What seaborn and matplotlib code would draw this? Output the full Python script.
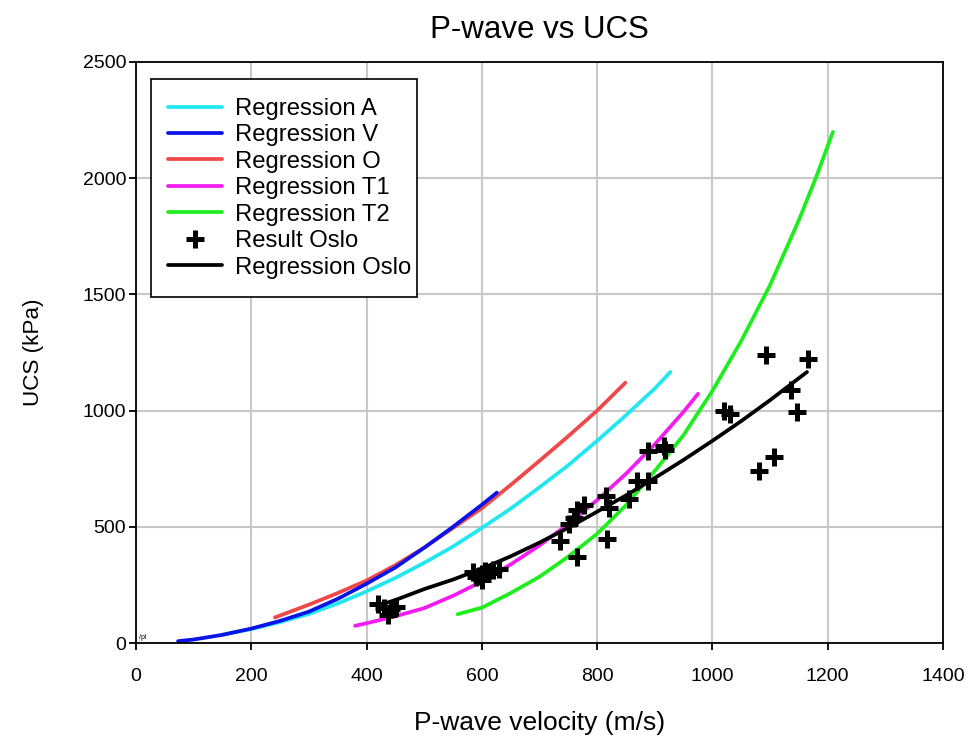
import matplotlib
matplotlib.use("Agg")
import matplotlib.pyplot as plt
import seaborn as sns
import pandas as pd
from matplotlib.lines import Line2D
from matplotlib.patches import Rectangle

# ---- data ----
a_x = [150, 200, 250, 300, 350, 400, 450, 500, 550, 600, 650, 700, 750, 800, 850, 900, 927]
a_y = [36, 60, 90, 125, 170, 222, 280, 345, 415, 495, 578, 670, 765, 870, 980, 1095, 1166]

v_x = [73, 100, 150, 200, 250, 300, 350, 400, 450, 500, 550, 600, 626]
v_y = [8, 15, 35, 62, 95, 135, 190, 255, 325, 410, 500, 595, 647]

o_x = [241, 300, 350, 400, 450, 500, 550, 600, 650, 700, 750, 800, 849]
o_y = [110, 165, 215, 269, 335, 410, 495, 580, 680, 784, 890, 1000, 1120]

t1_x = [380, 400, 450, 500, 550, 600, 650, 700, 750, 800, 850, 900, 950, 975]
t1_y = [74, 85, 115, 150, 203, 265, 338, 420, 512, 615, 728, 855, 995, 1072]

t2_x = [558, 600, 650, 700, 750, 800, 850, 900, 950, 1000, 1050, 1100, 1150, 1180, 1209]
t2_y = [124, 152, 215, 285, 372, 470, 593, 740, 895, 1085, 1300, 1540, 1820, 2005, 2199]

oslo_x = [425, 450, 500, 550, 600, 650, 700, 750, 800, 850, 900, 950, 1000, 1050, 1100, 1164]
oslo_y = [165, 185, 232, 273, 320, 373, 432, 496, 565, 635, 710, 788, 870, 955, 1045, 1166]

pts_x = [420, 437, 451, 430, 442,
         585, 595, 600, 605, 610, 620, 630, 600, 590,
         736, 765, 751, 760, 765, 777, 817, 816, 820, 856,
         870, 888, 888, 916, 918,
         1020, 1030, 1081, 1107, 1093, 1136, 1147, 1165]
pts_y = [167, 120, 155, 150, 148,
         305, 290, 270, 310, 300, 315, 320, 295, 285,
         439, 369, 511, 539, 571, 594, 448, 633, 582, 619,
         698, 695, 827, 849, 830,
         1000, 985, 741, 799, 1239, 1087, 993, 1224]

x_ticks = [0, 200, 400, 600, 800, 1000, 1200, 1400]
y_ticks = [0, 500, 1000, 1500, 2000, 2500]

# ---- styling ----
sns.set_theme(style="whitegrid")
plt.rcParams["font.family"] = ["Liberation Sans", "DejaVu Sans"]
plt.rcParams["text.color"] = "black"

fig = plt.figure(figsize=(9.77, 7.38), dpi=100)
ax = fig.add_axes([136 / 977, 1 - 643 / 738, (943 - 136) / 977, (643 - 62) / 738])
ax.set_facecolor("white")

lw = 2.7
series = [
    ("Regression A", a_x, a_y, "#22E6F2"),
    ("Regression O", o_x, o_y, "#F04848"),
    ("Regression V", v_x, v_y, "#0A14E6"),
    ("Regression T1", t1_x, t1_y, "#F21CF0"),
    ("Regression T2", t2_x, t2_y, "#1EEE1E"),
    ("Regression Oslo", oslo_x, oslo_y, "#000000"),
]
colors = {}
for name, xs, ys, c in series:
    colors[name] = c
    df = pd.DataFrame({"x": xs, "y": ys})
    sns.lineplot(data=df, x="x", y="y", ax=ax, color=c, lw=lw,
                 estimator=None, sort=False, legend=False)

pdf = pd.DataFrame({"x": pts_x, "y": pts_y})
sns.scatterplot(data=pdf, x="x", y="y", ax=ax, marker="+", s=170,
                color="black", linewidth=3.6, legend=False, zorder=5)

ax.set_xlim(0, 1400)
ax.set_ylim(0, 2500)
ax.set_xticks(x_ticks)
ax.set_yticks(y_ticks)
ax.grid(True, color="#C8C8C8", lw=1.5)
for s in ax.spines.values():
    s.set_color("black")
    s.set_linewidth(1.3)
ax.tick_params(axis="both", which="major", labelsize=14, length=5,
               width=1.3, color="black", direction="out",
               bottom=True, left=True, labelcolor="black")
ax.tick_params(axis="x", pad=13)
ax.tick_params(axis="y", pad=2)

ax.set_xlabel("P-wave velocity (m/s)", fontsize=19, labelpad=19, color="black")
ax.set_ylabel("UCS (kPa)", fontsize=16.2, labelpad=28, color="black")
ax.set_title("P-wave vs UCS", fontsize=22.5, pad=17, color="black")

ax.text(5, 18, "/pl", fontsize=5, color="black")

# legend frame (drawn as a box in axes coordinates)
W, H = 807.0, 581.0
ax.add_patch(Rectangle(((151 - 136) / W, 1 - (297 - 62) / H),
                       (417 - 151) / W, (297 - 79) / H,
                       transform=ax.transAxes, facecolor="white",
                       edgecolor="black", lw=1.2, zorder=6))

order = ["Regression A", "Regression V", "Regression O", "Regression T1",
         "Regression T2"]
handles = [Line2D([], [], color=colors[n], lw=lw) for n in order]
labels = list(order)
handles.append(Line2D([], [], color="black", marker="+", ls="none",
                      markersize=13, mew=3.6))
labels.append("Result Oslo")
handles.append(Line2D([], [], color="black", lw=lw))
labels.append("Regression Oslo")
leg = ax.legend(handles, labels, loc="upper left",
                bbox_to_anchor=((168 - 136) / W, 1 - (98 - 62) / H),
                borderaxespad=0, borderpad=0, labelcolor="black",
                fontsize=17.2, frameon=False, labelspacing=0.185,
                handlelength=2.25, handletextpad=0.55)
leg.set_zorder(7)

fig.savefig("out.png", dpi=100)
